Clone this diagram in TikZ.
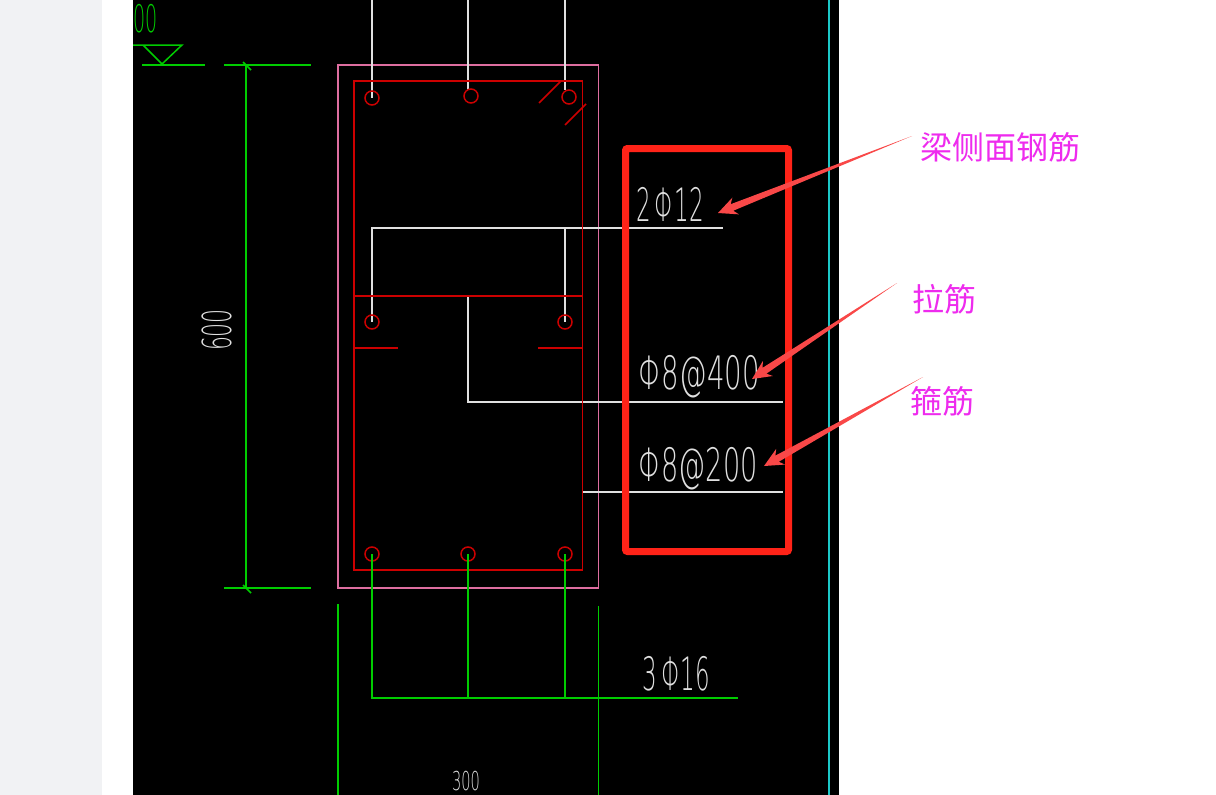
\documentclass[tikz,border=0pt]{standalone}
\usepackage{fontspec}
\setmainfont{Liberation Sans}
\newfontfamily\cjk{Noto Sans CJK SC}
\newfontfamily\cadfont{DejaVu Sans ExtraLight}
\usetikzlibrary{calc}
\definecolor{pagegray}{HTML}{F1F2F4}
\definecolor{concrete}{HTML}{DE6EA0}
\definecolor{stirrup}{HTML}{CC0000}
\definecolor{cadgreen}{HTML}{00CC00}
\definecolor{cadwhite}{HTML}{E0E0E0}
\definecolor{cadcyan}{HTML}{1CC8C8}
\definecolor{markred}{HTML}{FF2318}
\definecolor{arrowred}{HTML}{F94848}
\definecolor{notepink}{HTML}{EE2BEE}
\tikzset{
 steel/.style={stirrup,line width=1.5pt},
 leader/.style={cadwhite,line width=1.5pt},
 dimline/.style={cadgreen,line width=1.5pt},
 cadtext/.style={font=\cadfont\fontsize{46}{46}\selectfont,inner sep=0pt,text=cadwhite,transform shape},
 notetext/.style={font=\cjk\fontsize{32}{32}\selectfont,inner sep=0pt,text=notepink,anchor=west},
}
\begin{document}
\begin{tikzpicture}[x=1pt,y=-1pt]
\useasboundingbox (0,0) rectangle (1216,795);
\fill[white] (0,0) rectangle (1216,795);
\fill[pagegray] (0,0) rectangle (102,795);
\fill[black] (133,0) rectangle (839,795);
\draw[cadcyan,line width=1.5pt] (829,0)--(829,795);
% section outline
\draw[concrete,line width=1.5pt] (338,65) rectangle (598.7,588);
% leaders
\draw[leader] (372,0)--(372,98);
\draw[leader] (468,0)--(468,90);
\draw[leader] (565,0)--(565,90);
\draw[leader] (372,322)--(372,228)--(723,228);
\draw[leader] (565,228)--(565,322);
\draw[leader] (468,296)--(468,402)--(783,402);
\draw[leader] (582,492)--(783,492);
% stirrup and ties
\draw[steel] (354,81) rectangle (582.5,570);
\draw[steel] (354,296)--(582.5,296);
\draw[steel] (354,348)--(398,348);
\draw[steel] (538,348)--(582.5,348);
\draw[steel] (539,103)--(561,81);
\draw[steel] (565,125)--(586,104);
\foreach \x/\y in {372/98,471/96,569/97,372/322,565/322,372/554,468/554,565/554} {
 \draw[steel] (\x,\y) circle (7);
}
% bottom bars
\draw[dimline] (372,554)--(372,698)--(738,698);
\draw[dimline] (468,554)--(468,698);
\draw[dimline] (565,554)--(565,698);
\draw[dimline] (338,604)--(338,795);
\draw[dimline] (598.7,606)--(598.7,795);
% dimension 600
\draw[dimline] (224,65)--(311,65);
\draw[dimline] (224,588)--(311,588);
\draw[dimline] (246,65)--(246,588);
\draw[dimline] (243,62)--(251,70);
\draw[dimline] (243,585)--(251,593);
% level mark
\draw[dimline] (133,45)--(182,45)--(162,64)--(143,45);
\draw[dimline] (142,65)--(205,65);
\node[cadtext,font=\cadfont\fontsize{38}{38}\selectfont,text=cadgreen,xscale=.5] (levelval) at (146,19) {00};
% cad labels
\node[rotate=90,cadtext,font=\cadfont\fontsize{40}{40}\selectfont,xscale=.55] (height) at (217,330) {600};
\node[cadtext,font=\cadfont\fontsize{26}{26}\selectfont,xscale=.56] (width) at (466,781) {300};
\node[cadtext,xscale=.5] (sidebar) at (670,204) {2\,Φ12};
\node[cadtext,xscale=.6] (tiebar) at (699,377) {Φ8@400};
\node[cadtext,xscale=.59] (hoopbar) at (698,469) {Φ8@200};
\node[cadtext,xscale=.5] (mainbar) at (676.5,674) {3\,Φ16};
% red box
\draw[markred,line width=7pt,rounded corners=2pt] (625.5,148.5) rectangle (788.5,551.5);
% notes
\node[notetext] (sidenote) at (920,147) {梁侧面钢筋};
\node[notetext] (tienote) at (912,299) {拉筋};
\node[notetext] (hoopnote) at (910,401) {箍筋};
\coordinate (sidetail) at (912,136);
\coordinate (sidetip) at (718,213);
\coordinate (tietail) at (897,283);
\coordinate (tietip) at (752,379);
\coordinate (hooptail) at (923,377);
\coordinate (hooptip) at (764,466);
\foreach \n in {side,tie,hoop} {
 \fill[arrowred] (\n tail)
  --($(\n tip)!15pt!(\n tail)!3.5pt!90:(\n tail)$)
  --($(\n tip)!19pt!(\n tail)!9pt!90:(\n tail)$)
  --(\n tip)
  --($(\n tip)!19pt!(\n tail)!9pt!-90:(\n tail)$)
  --($(\n tip)!15pt!(\n tail)!3.5pt!-90:(\n tail)$)
  --cycle;
}
\end{tikzpicture}
\end{document}
